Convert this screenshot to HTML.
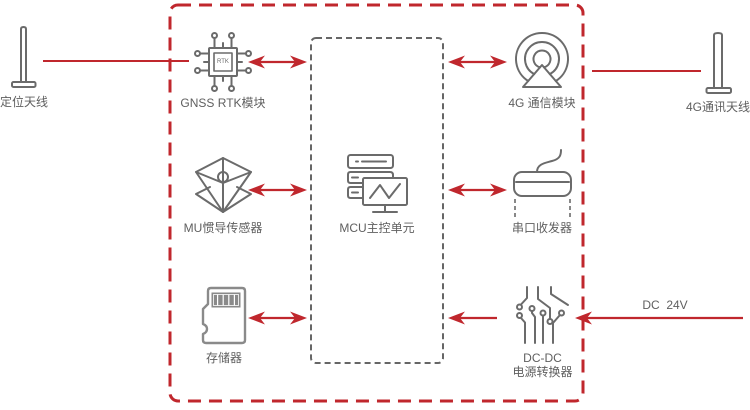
<!DOCTYPE html>
<html><head><meta charset="utf-8">
<style>
html,body{margin:0;padding:0;background:#fff;}
svg{display:block;}
text{font-family:"Liberation Sans","Noto Sans CJK SC",sans-serif;font-size:12px;fill:#5f5f5f;}
</style></head>
<body>
<svg width="750" height="410" viewBox="0 0 750 410" xmlns="http://www.w3.org/2000/svg">
<defs>
  <path id="ahR" d="M0,0 L-17,-6.5 L-12,0 L-17,6.5 Z" fill="#c0272d"/>
  <path id="ahL" d="M0,0 L17,-6.5 L12,0 L17,6.5 Z" fill="#c0272d"/>
</defs>

<!-- outer red dashed frame -->
<rect x="170" y="5" width="413" height="396" rx="8" fill="none" stroke="#c0272d" stroke-width="3" stroke-dasharray="13 8"/>
<!-- inner gray dashed MCU box -->
<rect x="311" y="38" width="132" height="325" rx="5" fill="none" stroke="#666" stroke-width="2" stroke-dasharray="6 4"/>

<!-- antenna lines -->
<line x1="43" y1="61" x2="189" y2="61" stroke="#c0272d" stroke-width="2"/>
<line x1="592" y1="71" x2="701" y2="71" stroke="#c0272d" stroke-width="2"/>

<!-- double arrows -->
<g stroke="#c0272d" stroke-width="2.2">
  <line x1="256" y1="62" x2="299" y2="62"/>
  <line x1="456" y1="62" x2="499" y2="62"/>
  <line x1="256" y1="190" x2="299" y2="190"/>
  <line x1="456" y1="190" x2="499" y2="190"/>
  <line x1="256" y1="318" x2="299" y2="318"/>
  <line x1="456" y1="318" x2="497" y2="318"/>
  <line x1="585" y1="318" x2="743" y2="318"/>
</g>
<use href="#ahL" x="248" y="62"/><use href="#ahR" x="307" y="62"/>
<use href="#ahL" x="448" y="62"/><use href="#ahR" x="507" y="62"/>
<use href="#ahL" x="248" y="190"/><use href="#ahR" x="307" y="190"/>
<use href="#ahL" x="448" y="190"/><use href="#ahR" x="507" y="190"/>
<use href="#ahL" x="248" y="318"/><use href="#ahR" x="307" y="318"/>
<use href="#ahL" x="448" y="318"/>
<use href="#ahL" x="575" y="318"/>

<g fill="none" stroke="#6b6b6b" stroke-width="2" stroke-linecap="round" stroke-linejoin="round">
  <!-- left antenna -->
  <path d="M21,82 V29 Q21,27 23.5,27 Q26,27 26,29 V82"/>
  <rect x="12" y="82" width="23.5" height="5" rx="1.5"/>
  <!-- right antenna -->
  <path d="M714,88 V35 Q714,33 718,33 Q722,33 722,35 V88"/>
  <rect x="706.5" y="88" width="24.5" height="5" rx="1.5"/>

  <!-- GNSS chip -->
  <rect x="209" y="48" width="28" height="28" rx="1"/>
  <rect x="214" y="53" width="18" height="18" stroke-width="1.6"/>
  <path d="M214.5,48 V38 M231.5,48 V38 M223,48 V43
           M214.5,76 V86 M231.5,76 V86 M223,76 V81
           M209,53.5 H200 M209,70.5 H200 M209,62 H204
           M237,53.5 H246 M237,70.5 H246 M237,62 H242"/>
  <circle cx="214.5" cy="35.5" r="2.5"/><circle cx="231.5" cy="35.5" r="2.5"/>
  <circle cx="214.5" cy="88.5" r="2.5"/><circle cx="231.5" cy="88.5" r="2.5"/>
  <circle cx="197.5" cy="53.5" r="2.5"/><circle cx="197.5" cy="70.5" r="2.5"/>
  <circle cx="248.5" cy="53.5" r="2.5"/><circle cx="248.5" cy="70.5" r="2.5"/>

  <!-- 4G module -->
  <path d="M528.2,81 A26,26 0 1 1 555.8,81"/>
  <path d="M534.2,74.1 A17,17 0 1 1 549.8,74.1"/>
  <path d="M540,67.3 A8.5,8.5 0 1 1 544,67.3"/>
  <path d="M542,65 L523,87 H561 Z"/>

  <!-- IMU -->
  <path d="M196,172 L223,158 L251,172 L223,183 Z"/>
  <path d="M196,172 L223,212 L251,172"/>
  <path d="M223,158 V212"/>
  <circle cx="223" cy="177" r="5"/>
  <path d="M210,187 L196,194 L223,212 L251,194 L237,187"/>

  <!-- MCU server + monitor -->
  <rect x="348" y="155" width="45" height="13" rx="2.5"/>
  <path d="M356,161.5 H358 M362,161.5 H386"/>
  <path d="M362,183 H350.5 Q348,183 348,180.5 V174.5 Q348,172 350.5,172 H390 Q393,172 393,175 V178"/>
  <path d="M352,177.5 H358"/>
  <path d="M362,198 H350.5 Q348,198 348,195.5 V189.5 Q348,187 350.5,187 H362"/>
  <path d="M352,192.5 H358"/>
  <rect x="363" y="178" width="44" height="27" rx="1.5"/>
  <path d="M370,198 L380,185 L389,198 L400,184"/>
  <path d="M385,205 V212 M373,212 H397"/>

  <!-- serial transceiver -->
  <rect x="514" y="172" width="57" height="24" rx="8"/>
  <path d="M516,182 H569"/>
  <path d="M537,172 C537,164 545,163 552,161 C560,159 561,155 561,150"/>
  <path d="M515,199 V218 M570,199 V218" stroke-width="1.6" stroke-dasharray="4 3" stroke-linecap="butt"/>

  <!-- DC-DC -->
  <path d="M527,287 V298 L521,304.5"/>
  <circle cx="519.5" cy="307" r="2.5"/>
  <circle cx="519.5" cy="315.5" r="2.5"/>
  <path d="M521,318 L525,322.5 V343"/>
  <circle cx="532" cy="308.5" r="2.5"/>
  <path d="M532,311 V313 L535,317 V343"/>
  <circle cx="543" cy="313" r="2.5"/>
  <path d="M543,315.5 V343"/>
  <path d="M538,287 V299 L550,308 V319"/>
  <circle cx="550" cy="321.5" r="2.5"/>
  <circle cx="561.5" cy="313" r="2.5"/>
  <path d="M559.5,315.5 L553,323 V343"/>
  <path d="M551,287 V294 L568,305"/>
</g>

<!-- SD card -->
<path d="M211,288 L242,288 Q245,288 245,291 L245,340 Q245,343 242,343 L206,343 Q203,343 203,340 L203,334 Q207,332.5 207,329 Q207,325.5 203,324 L203,309 L208,304 L208,291 Q208,288 211,288 Z" fill="none" stroke="#8a8a8a" stroke-width="2.4" stroke-linejoin="round"/>
<rect x="212" y="293" width="28" height="14" fill="#8a8a8a" stroke="#8a8a8a" stroke-width="1"/>
<path d="M217.6,294.5 V305.5 M223.2,294.5 V305.5 M228.8,294.5 V305.5 M234.4,294.5 V305.5" stroke="#fff" stroke-width="1.2"/>
<rect x="213.5" y="294.5" width="25" height="11" fill="none" stroke="#fff" stroke-width="0.8"/>

<!-- RTK small text -->
<text x="223" y="62" text-anchor="middle" dominant-baseline="central" style="font-size:6px;fill:#6b6b6b;">RTK</text>

<!-- labels -->
<text x="0" y="102" dominant-baseline="central">定位天线</text>
<text x="750" y="107" text-anchor="end" dominant-baseline="central">4G通讯天线</text>
<text x="223" y="103" text-anchor="middle" dominant-baseline="central">GNSS RTK模块</text>
<text x="542" y="103" text-anchor="middle" dominant-baseline="central">4G 通信模块</text>
<text x="223" y="228" text-anchor="middle" dominant-baseline="central">MU惯导传感器</text>
<text x="377" y="228" text-anchor="middle" dominant-baseline="central">MCU主控单元</text>
<text x="542" y="228" text-anchor="middle" dominant-baseline="central">串口收发器</text>
<text x="224" y="358" text-anchor="middle" dominant-baseline="central">存储器</text>
<text x="542.5" y="358" text-anchor="middle" dominant-baseline="central">DC-DC</text>
<text x="542.5" y="372" text-anchor="middle" dominant-baseline="central">电源转换器</text>
<text x="665" y="305" text-anchor="middle" dominant-baseline="central" xml:space="preserve">DC  24V</text>
</svg>
</body></html>
